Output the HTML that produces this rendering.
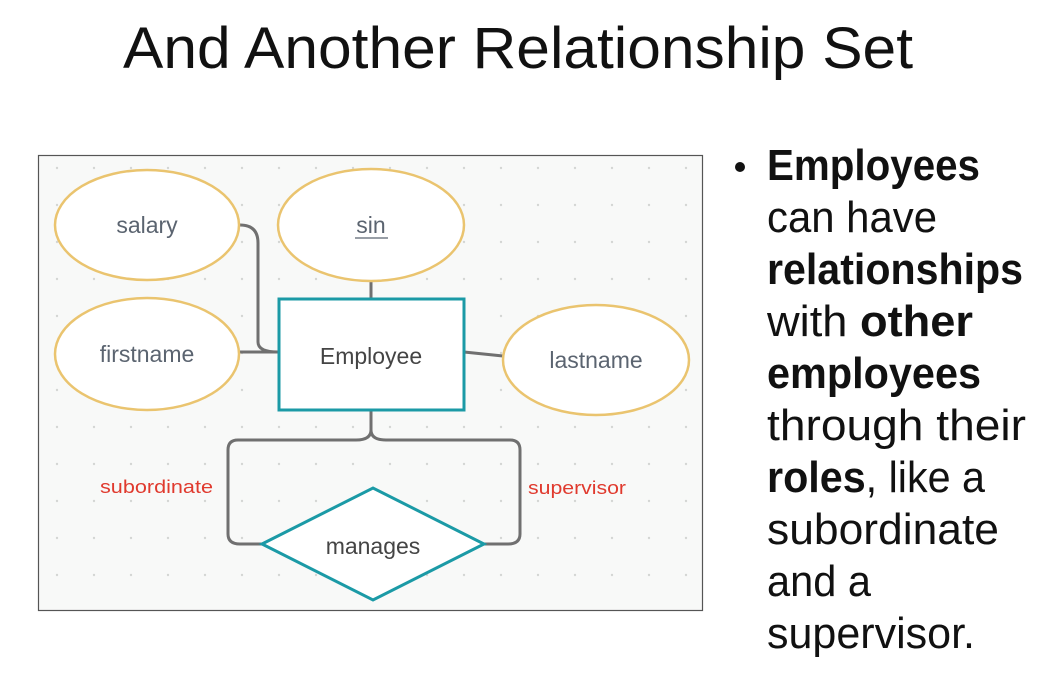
<!DOCTYPE html>
<html><head><meta charset="utf-8"><style>
html,body{margin:0;padding:0;background:#fff;}
svg{display:block;}
text{font-family:"Liberation Sans",sans-serif;}
</style></head><body>
<svg width="1041" height="699" viewBox="0 0 1041 699" xmlns="http://www.w3.org/2000/svg">
<defs>
<pattern id="dots" x="0" y="0" width="37" height="37" patternUnits="userSpaceOnUse">
<circle cx="20" cy="20" r="1.2" fill="#d4d6d4"/>
</pattern>
</defs>
<rect width="1041" height="699" fill="#fff"/>
<text x="123" y="68" font-size="58" textLength="790" lengthAdjust="spacingAndGlyphs" fill="#111">And Another Relationship Set</text>

<rect x="38.5" y="155.5" width="664" height="455" fill="#f8f9f8" stroke="#555" stroke-width="1.2"/>
<rect x="40" y="157" width="661" height="452" fill="url(#dots)"/>

<g fill="none" stroke="#707070" stroke-width="3">
<path d="M240 225 Q258 225 258 243 L258 342 Q258 352 278 352"/>
<path d="M240 352 L278 352"/>
<path d="M371 281 L371 298"/>
<path d="M464 352 L503 356"/>
<path d="M371 410 L371 430 Q371 440 356 440 L238 440 Q228 440 228 450 L228 534 Q228 544 240 544 L262 544"/>
<path d="M371 430 Q371 440 386 440 L510 440 Q520 440 520 450 L520 534 Q520 544 508 544 L484 544"/>
</g>

<g fill="#fff" stroke="#eac46f" stroke-width="2.5">
<ellipse cx="147" cy="225" rx="92" ry="55"/>
<ellipse cx="371" cy="225" rx="93" ry="56"/>
<ellipse cx="147" cy="354" rx="92" ry="56"/>
<ellipse cx="596" cy="360" rx="93" ry="55"/>
</g>
<rect x="279" y="299" width="185" height="111" fill="#fff" stroke="#1b9aa6" stroke-width="3"/>
<polygon points="262,544 373,488 484,544 373,600" fill="#fff" stroke="#1b9aa6" stroke-width="3"/>

<g font-size="23" fill="#5b6470" text-anchor="middle">
<text x="147" y="233">salary</text>
<text x="371" y="233">sin</text>
<text x="147" y="362">firstname</text>
<text x="596" y="368">lastname</text>
<text x="371" y="364" fill="#444">Employee</text>
<text x="373" y="554" fill="#444">manages</text>
</g>
<line x1="355" y1="238" x2="388" y2="238" stroke="#5b6470" stroke-width="1.3"/>
<text x="100" y="493" font-size="18" textLength="113" lengthAdjust="spacingAndGlyphs" fill="#e03a2e">subordinate</text>
<text x="528" y="494" font-size="18" textLength="98" lengthAdjust="spacingAndGlyphs" fill="#e03a2e">supervisor</text>

<circle cx="740" cy="167" r="5" fill="#111"/>
<g font-size="44" fill="#111">
<text x="767" y="180" font-weight="bold" textLength="213" lengthAdjust="spacingAndGlyphs">Employees</text>
<text x="767" y="232" textLength="170" lengthAdjust="spacingAndGlyphs">can have</text>
<text x="767" y="284" font-weight="bold" textLength="256" lengthAdjust="spacingAndGlyphs">relationships</text>
<text x="767" y="336" textLength="206" lengthAdjust="spacingAndGlyphs">with <tspan font-weight="bold">other</tspan></text>
<text x="767" y="388" font-weight="bold" textLength="214" lengthAdjust="spacingAndGlyphs">employees</text>
<text x="767" y="440" textLength="259" lengthAdjust="spacingAndGlyphs">through their</text>
<text x="767" y="492" textLength="218" lengthAdjust="spacingAndGlyphs"><tspan font-weight="bold">roles</tspan>, like a</text>
<text x="767" y="544" textLength="232" lengthAdjust="spacingAndGlyphs">subordinate</text>
<text x="767" y="596" textLength="104" lengthAdjust="spacingAndGlyphs">and a</text>
<text x="767" y="648" textLength="208" lengthAdjust="spacingAndGlyphs">supervisor.</text>
</g>
</svg>
</body></html>
